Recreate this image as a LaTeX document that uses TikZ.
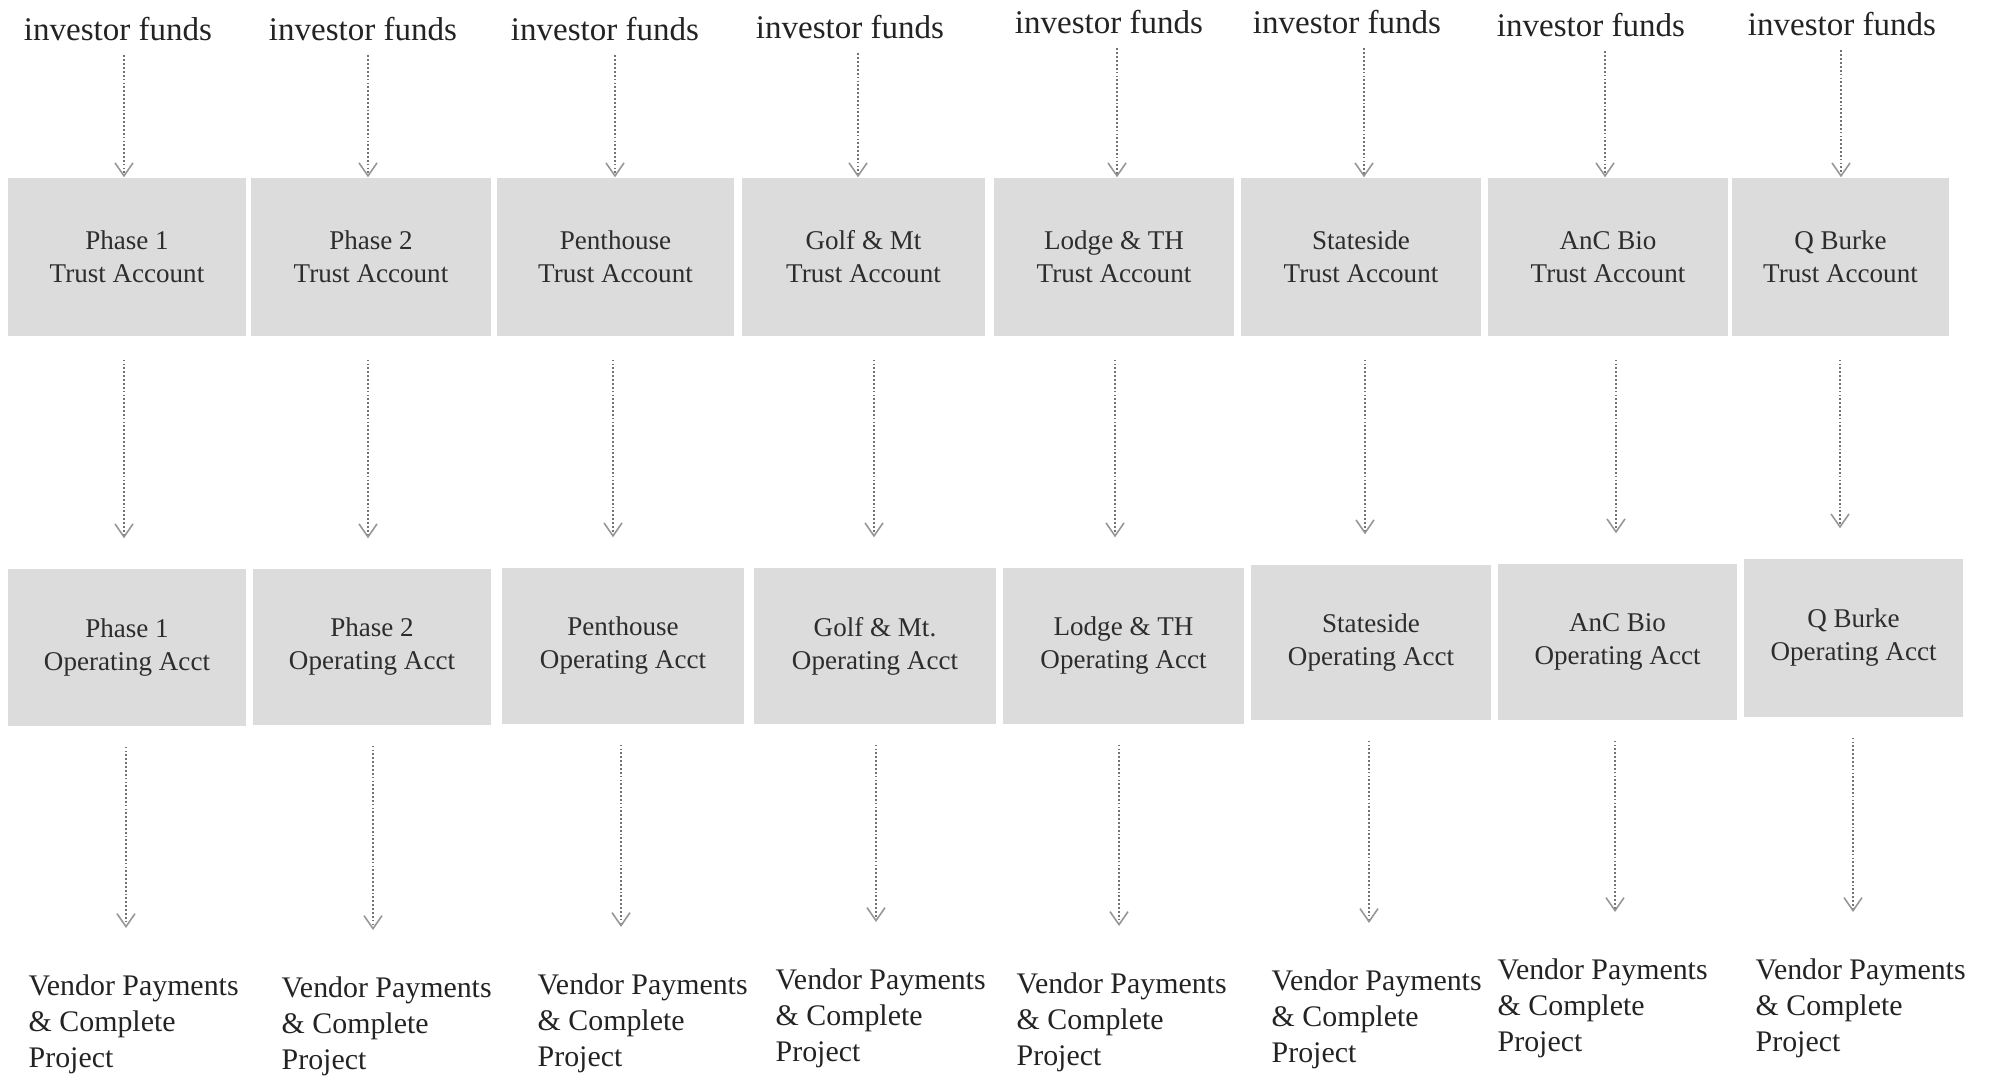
\documentclass[tikz,border=0pt]{standalone}
\usepackage{fontspec}
\setmainfont{Liberation Serif}
\usetikzlibrary{arrows.meta}
\definecolor{boxfill}{RGB}{220,220,220}
\definecolor{ink}{RGB}{35,35,35}
\definecolor{boxink}{RGB}{45,45,45}
\definecolor{flowline}{RGB}{115,115,115}
\definecolor{flowtip}{RGB}{150,150,150}
\tikzset{
  fundlabel/.style={inner sep=0pt, text=ink, font=\fontsize{9.4}{11}\selectfont},
  acctbox/.style={rectangle, fill=boxfill, inner sep=0pt, text=boxink, align=center,
    font=\fontsize{7.7}{9.4}\selectfont},
  outcome/.style={inner sep=0pt, anchor=north west, align=left, text=ink,
    font=\fontsize{8.5}{10.2}\selectfont},
  flow/.style={draw=flowline, line width=0.45pt, dash pattern=on 0.5pt off 0.6pt,
    -{Straight Barb[length=1.3mm, width=1.8mm, line width=0.45pt, color=flowtip]}}
}
\begin{document}
\begin{tikzpicture}[x=0.1mm, y=-0.1mm]
\path[use as bounding box] (0,0) rectangle (1991,1076);
% one column per project: funds -> trust account -> operating account -> payments
\foreach \col/\labx/\laby/\trl/\trr/\opl/\opr/\opt/\opb/\arra/\arrb/\arrc/\payx/\payy/\tname/\oname in {
  1/118/29/8/246/8/246/569/726/124/124/126/28/985/Phase 1/Phase 1,
  2/363/29/251/491/253/491/569/725/368/368/373/281/987/Phase 2/Phase 2,
  3/605/29/497/734/502/744/568/724/615/613/621/537/984/Penthouse/Penthouse,
  4/850/27/742/985/754/996/568/724/858/874/876/775/979/Golf \& Mt/Golf \& Mt.,
  5/1109/22/994/1234/1003/1244/568/724/1117/1115/1119/1016/983/Lodge \& TH/Lodge \& TH,
  6/1347/22/1241/1481/1251/1491/565/720/1364/1365/1369/1271/980/Stateside/Stateside,
  7/1591/25/1488/1728/1498/1737/564/720/1605/1616/1615/1497/969/AnC Bio/AnC Bio,
  8/1842/24/1732/1949/1744/1963/559/717/1841/1840/1853/1755/969/Q Burke/Q Burke}{
  \node[fundlabel] (f\col) at (\labx,\laby) {investor funds};
  \node[acctbox, minimum width={(\trr-\trl)*0.1mm}, minimum height={158*0.1mm}]
    (t\col) at ({(\trl+\trr)/2},257) {\tname\\Trust Account};
  \node[acctbox, minimum width={(\opr-\opl)*0.1mm}, minimum height={(\opb-\opt)*0.1mm}]
    (o\col) at ({(\opl+\opr)/2},{(\opt+\opb)/2}) {\oname\\Operating Acct};
  \node[outcome] (v\col) at (\payx,{\payy-11}) {Vendor Payments\\\& Complete\\Project};
  \coordinate (ca\col) at (\arra,0);
  \coordinate (cb\col) at (\arrb,0);
  \coordinate (cc\col) at (\arrc,0);
  \draw[flow, shorten <=1.4mm] (f\col.south -| ca\col) -- (t\col.north -| ca\col);
  \draw[flow, shorten <=2.3mm, shorten >=3mm] (t\col.south -| cb\col) -- (o\col.north -| cb\col);
  \draw[flow, shorten <=2mm, shorten >=4.6mm] (o\col.south -| cc\col) -- (v\col.north -| cc\col);
}
\end{tikzpicture}
\end{document}
